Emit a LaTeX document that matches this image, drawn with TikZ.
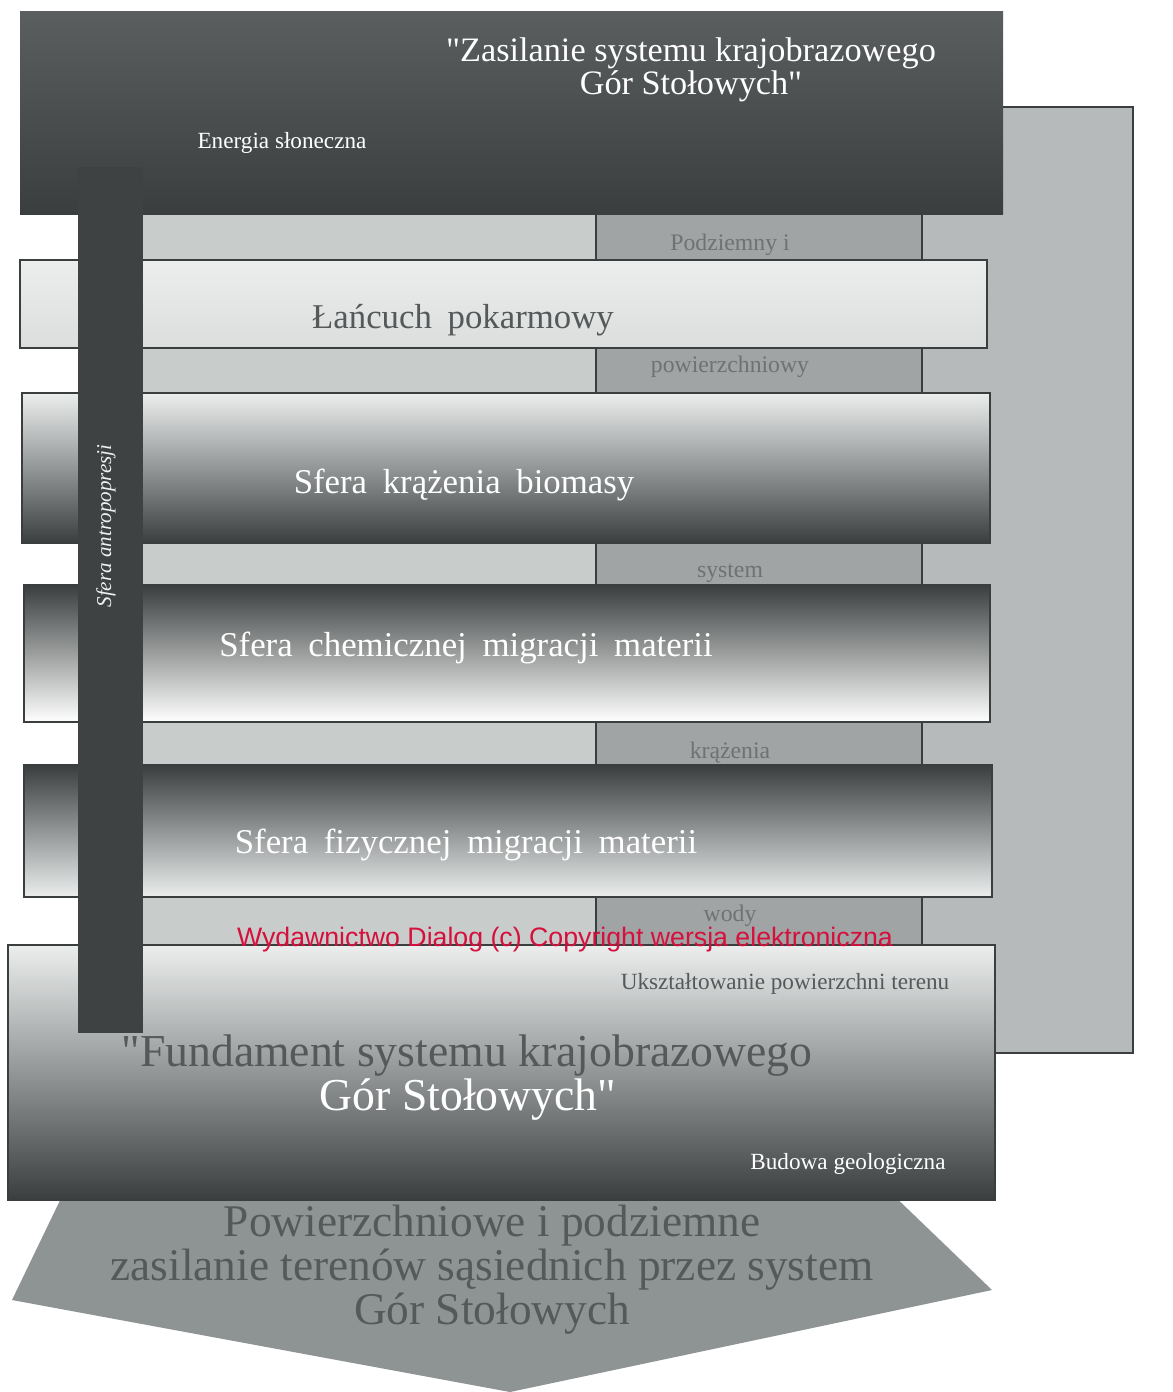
\documentclass[tikz,border=0pt]{standalone}
\usepackage{fontspec}
\setmainfont{Liberation Serif}[Ligatures=TeXOff]
\newfontfamily\wmfont{Liberation Sans}
\newfontfamily\bandfont[WordSpace=1.8, Ligatures=TeX]{Liberation Serif}
\usetikzlibrary{positioning, calc}
\definecolor{sgdark}{RGB}{58,62,62}
\definecolor{sgmid}{RGB}{128,133,133}
\definecolor{sglight}{RGB}{236,238,238}
\definecolor{sgpanel}{RGB}{182,186,186}
\definecolor{sgstrip}{RGB}{200,204,203}
\definecolor{sgcol}{RGB}{160,164,164}
\definecolor{sgbar}{RGB}{62,66,66}
\definecolor{sgarrow}{RGB}{142,147,147}
\definecolor{sgtext}{RGB}{85,89,89}
\definecolor{sgcoltext}{RGB}{110,114,114}
\definecolor{wmred}{RGB}{214,16,60}
\tikzset{
  band/.style={draw=sgdark, line width=1.6pt},
  panel/.style={draw=sgdark, line width=1.6pt, fill=sgpanel},
  bandlbl/.style={font=\bandfont\fontsize{19.8}{22}\selectfont, text=white},
  titlelbl/.style={font=\fontsize{19.5}{19}\selectfont, text=white, align=center},
  baselbl/.style={font=\fontsize{26}{28}\selectfont},
  arrowlbl/.style={font=\fontsize{25.8}{25}\selectfont, text=sgtext, align=center},
  smalllbl/.style={font=\fontsize{13.2}{15}\selectfont},
  collbl/.style={font=\fontsize{13.5}{15}\selectfont, text=sgcoltext},
  antrolbl/.style={font=\itshape\fontsize{12}{14}\selectfont, text=white!88!gray, rotate=90},
  wmlbl/.style={font=\wmfont\fontsize{15.2}{17}\selectfont, text=wmred}
}

\begin{document}
\begin{tikzpicture}[x=0.2mm, y=-0.2mm]
  \useasboundingbox[fill=white] (0,0) rectangle (1172,1392);
  \fill[sgarrow] (65,1190) -- (888,1190) -- (992,1290) -- (510,1392) -- (12,1300) -- cycle;
  \draw[panel] (600,107) rectangle (1133,1053);
  \fill[sgstrip] (140,205) rectangle (598,1040);
  \draw[band, fill=sgcol] (596,205) rectangle (922,945);
  \shade[top color=sgbar!85!white, middle color=sgmid!95!white, bottom color=sgdark] (20,12) rectangle (1003,215);
  \shade[band, top color=sglight, middle color=white, bottom color=sglight!85!gray] (20,260) rectangle (987,348);
  \shade[band, top color=sglight, middle color=sgmid, bottom color=sgdark] (22,393) rectangle (990,543);
  \shade[band, top color=sgdark, middle color=sgmid!70!white, bottom color=white] (24,585) rectangle (990,722);
  \shade[band, top color=sgdark, middle color=sgmid!80!white, bottom color=sglight] (24,765) rectangle (992,897);
  \shade[band, top color=sglight, middle color=sgmid!85!white, bottom color=sgdark] (8,945) rectangle (995,1200);
  \fill[sgbar] (78,167) rectangle (143,1033);

  \node[titlelbl] (zasilanie) at (691,70) {"Zasilanie systemu krajobrazowego\\Gór Stołowych"};
  \node[smalllbl, text=white] (energia) at (282,143) {Energia słoneczna};
  \node[bandlbl, text=sgtext] (lancuch) at (463,320) {Łańcuch pokarmowy};
  \node[bandlbl] (biomasa) at (464,485) {Sfera krążenia biomasy};
  \node[bandlbl] (chemiczna) at (466,648) {Sfera chemicznej migracji materii};
  \node[bandlbl] (fizyczna) at (466,845) {Sfera fizycznej migracji materii};
  \foreach \y/\t [count=\i] in {245/Podziemny i, 367/powierzchniowy, 573/system, 753/krążenia, 916/wody}
    \node[collbl] (col\i) at (730,\y) {\t};
  \node[antrolbl] (antropopresja) at (106,526) {Sfera antropopresji};
  \node[smalllbl, text=sgtext] (uksztalt) at (785,984) {Ukształtowanie powierzchni terenu};
  \node[baselbl, text=sgtext] (fundament) at (467,1056) {"Fundament systemu krajobrazowego};
  \node[baselbl, text=white] (gory) at (468,1100) {Gór Stołowych"};
  \node[smalllbl, text=white] (budowa) at (848,1164) {Budowa geologiczna};
  \node[arrowlbl] (zasilanie2) at (492,1270) {Powierzchniowe i podziemne\\zasilanie terenów sąsiednich przez system\\Gór Stołowych};
  \node[wmlbl] (znak) at (565,940) {Wydawnictwo Dialog (c) Copyright wersja elektroniczna};
\end{tikzpicture}
\end{document}
